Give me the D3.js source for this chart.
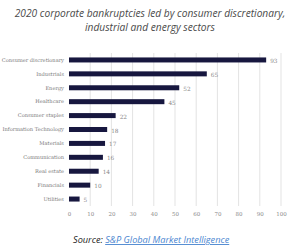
<!DOCTYPE html>
<html>
<head>
<meta charset="utf-8">
<script src="https://cdn.jsdelivr.net/npm/d3@7"></script>
<style>
body { margin: 0; background: #fff; }
</style>
</head>
<body>
<div id="output"></div>
<script>
var w = 300;
var h = 251;
var sectors = ['Consumer discretionary', 'Industrials', 'Energy', 'Healthcare', 'Consumer staples',
	'Information Technology', 'Materials', 'Communication', 'Real estate', 'Financials', 'Utilities'];
var counts = [93, 65, 52, 45, 22, 18, 17, 16, 14, 10, 5];
var ticks = [0, 10, 20, 30, 40, 50, 60, 70, 80, 90, 100];

var svg = d3.select('#output').append('svg')
	.attr('width', w)
	.attr('height', h);

var x = d3.scaleLinear().domain([0, 100]).range([69, 281]);
var y = d3.scaleBand().domain(sectors).range([53, 206]).paddingInner(0.64).paddingOuter(0.32);

// gridlines
svg.selectAll('line.grid')
	.data(ticks.slice(1))
	.enter()
	.append('line')
	.attr('class', 'grid')
	.attr('x1', function (d) { return x(d); })
	.attr('x2', function (d) { return x(d); })
	.attr('y1', 53)
	.attr('y2', 206)
	.attr('stroke', '#e3e3e3')
	.attr('stroke-width', 1);

var axis = svg.append('g')
	.attr('transform', 'translate(0,206)')
	.call(d3.axisBottom(x).tickValues(ticks).tickSize(0).tickPadding(6));
axis.select('.domain').remove();
axis.selectAll('text')
	.attr('font-family', 'DejaVu Serif, serif')
	.attr('font-size', 5.5)
	.attr('fill', '#8a8a8a');

svg.selectAll('rect')
	.data(counts)
	.enter()
	.append('rect')
	.attr('x', x(0))
	.attr('y', function (d, i) { return y(sectors[i]); })
	.attr('width', function (d) { return x(d) - x(0); })
	.attr('height', y.bandwidth())
	.attr('fill', '#17173f');

svg.selectAll('text.cat')
	.data(sectors)
	.enter()
	.append('text')
	.attr('class', 'cat')
	.text(function (d) { return d; })
	.attr('x', 64)
	.attr('y', function (d) { return y(d) + y.bandwidth() / 2; })
	.attr('dy', '0.35em')
	.attr('text-anchor', 'end')
	.attr('font-family', 'DejaVu Serif, serif')
	.attr('font-size', 5.1)
	.attr('fill', '#7a7a7a');

svg.selectAll('text.val')
	.data(counts)
	.enter()
	.append('text')
	.attr('class', 'val')
	.text(function (d) { return d; })
	.attr('x', function (d) { return x(d) + 4; })
	.attr('y', function (d, i) { return y(sectors[i]) + y.bandwidth() / 2 + 1; })
	.attr('dy', '0.35em')
	.attr('font-family', 'DejaVu Serif, serif')
	.attr('font-size', 5.8)
	.attr('fill', '#8a8a8a');

var title = svg.append('text')
	.attr('text-anchor', 'middle')
	.attr('font-family', 'Open Sans, sans-serif')
	.attr('font-style', 'italic')
	.attr('font-size', 10.2)
	.attr('fill', '#4a4a4a');
title.append('tspan').attr('x', 150).attr('y', 17).text('2020 corporate bankruptcies led by consumer discretionary,');
title.append('tspan').attr('x', 150).attr('y', 31).text('industrial and energy sectors');

var src = svg.append('text')
	.attr('x', 73)
	.attr('y', 243)
	.attr('font-family', 'Open Sans, sans-serif')
	.attr('font-style', 'italic')
	.attr('font-size', 9.2);
src.append('tspan').attr('fill', '#222').text('Source: ');
src.append('tspan').attr('fill', '#4a86d0').attr('text-decoration', 'underline').text('S&P Global Market Intelligence');
</script>
</body>
</html>
